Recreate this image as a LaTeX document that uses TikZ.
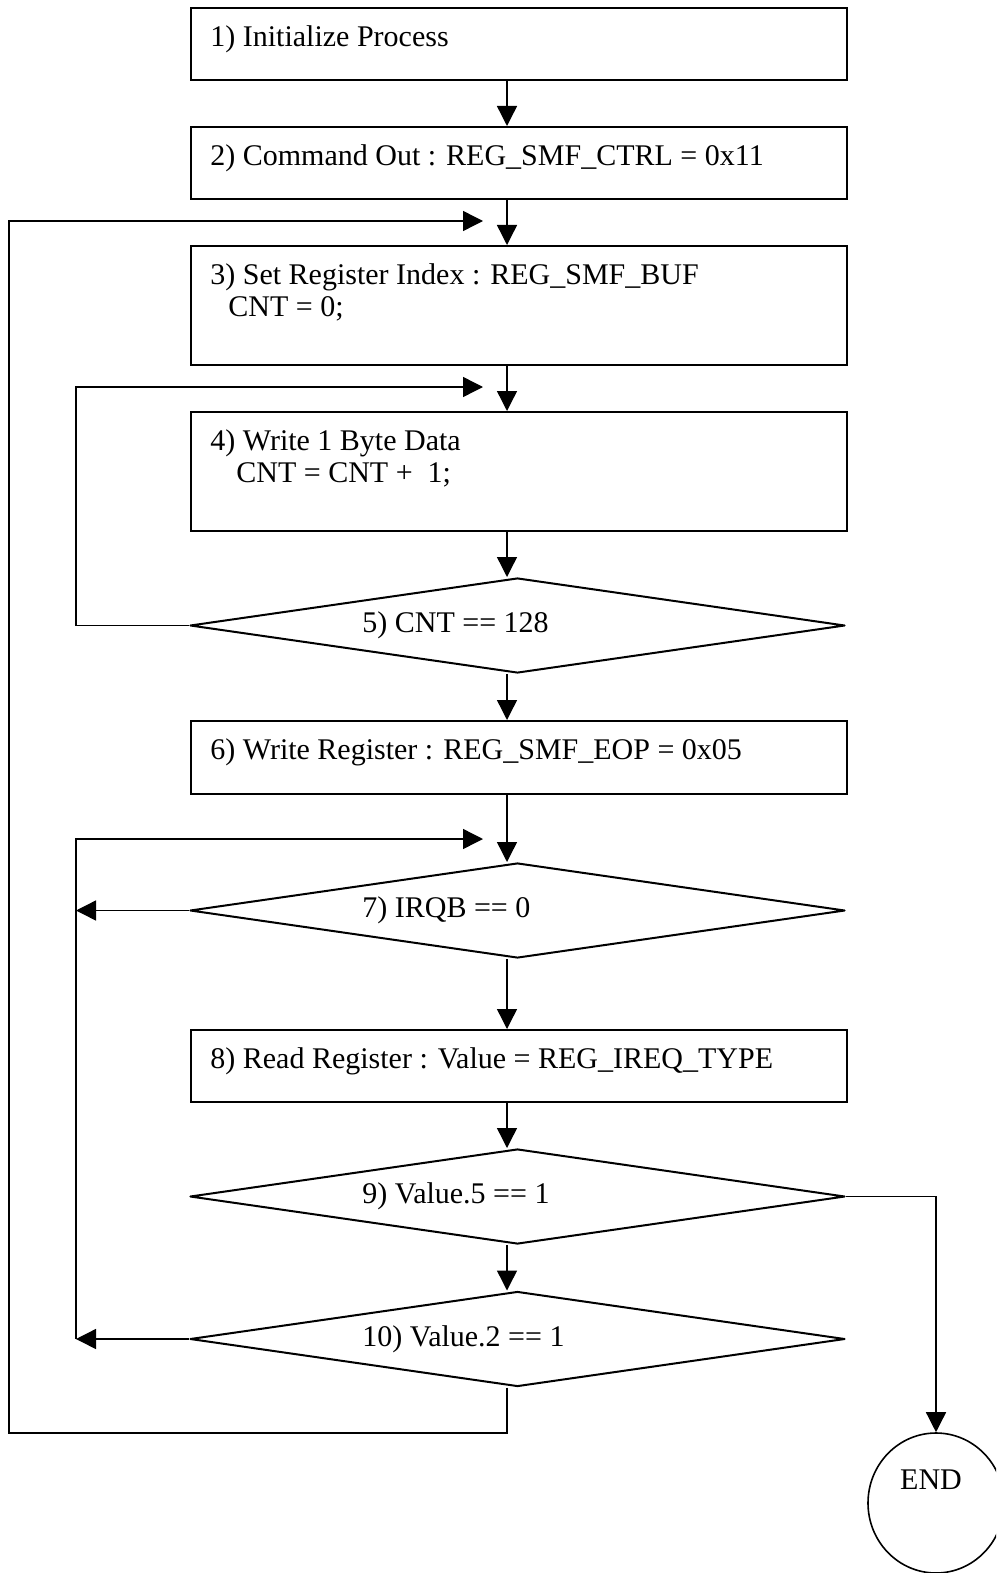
\documentclass[tikz,border=0pt]{standalone}
\usepackage{fontspec}
\setmainfont{Liberation Serif}
\usetikzlibrary{arrows.meta,positioning,shapes.geometric}

\begin{document}
\begin{tikzpicture}[
    x=0.5pt, y=-0.5pt,
    blk/.style={draw, line width=1pt, anchor=north west, minimum width=328pt, inner sep=0pt},
    dia/.style={draw, diamond, line width=1pt, line join=round, minimum width=327.5pt, minimum height=47.5pt, inner sep=0pt},
    txt/.style={anchor=north west, inner sep=0pt, align=left, font=\fontsize{15pt}{16pt}\selectfont},
    dtxt/.style={anchor=west, inner sep=0pt, font=\fontsize{15pt}{16pt}\selectfont},
    ln/.style={line width=0.7pt},
    >={Triangle[length=10pt,width=10pt]}
]
\useasboundingbox (0,0) rectangle (996,1573);
\clip (0,0) rectangle (996,1573);

\node[blk, minimum height=36pt] (b1) at (190,7) {};
\node[blk, minimum height=36pt] (b2) at (190,126) {};
\node[blk, minimum height=59.5pt] (b3) at (190,245) {};
\node[blk, minimum height=59.5pt] (b4) at (190,411) {};
\node[dia] (d5) at (517.5,625.5) {};
\node[blk, minimum height=36.5pt] (b6) at (190,720) {};
\node[dia] (d7) at (517.5,910.5) {};
\node[blk, minimum height=36pt] (b8) at (190,1029) {};
\node[dia] (d9) at (517.5,1196.5) {};
\node[dia] (d10) at (517.5,1339) {};
\node[draw, ellipse, line width=0.8pt, minimum width=68pt, minimum height=70pt, inner sep=0pt] (endc) at (936,1503) {};

\node[txt] (t1) at ([xshift=10pt,yshift=-9pt]b1.north west) {1) Initialize Process};
\node[txt] (t2) at ([xshift=10pt,yshift=-9pt]b2.north west) {2) Command Out : REG\_SMF\_CTRL = 0x11};
\node[txt] (t3) at ([xshift=10pt,yshift=-9pt]b3.north west) {3) Set Register Index : REG\_SMF\_BUF\\\hspace*{9pt}CNT = 0;};
\node[txt] (t4) at ([xshift=10pt,yshift=-9pt]b4.north west) {4) Write 1 Byte Data\\\hspace*{13pt}CNT = CNT +\ \ 1;};
\node[txt] (t6) at ([xshift=10pt,yshift=-9pt]b6.north west) {6) Write Register : REG\_SMF\_EOP = 0x05};
\node[txt] (t8) at ([xshift=10pt,yshift=-9pt]b8.north west) {8) Read Register : Value = REG\_IREQ\_TYPE};
\node[dtxt] (t5) at ([xshift=86.5pt]d5.west) {5) CNT == 128};
\node[dtxt] (t7) at ([xshift=86.5pt]d7.west) {7) IRQB == 0};
\node[dtxt] (t9) at ([xshift=86.5pt]d9.west) {9) Value.5 == 1};
\node[dtxt] (t10) at ([xshift=86.5pt]d10.west) {10) Value.2 == 1};
\node[dtxt, anchor=center] (tend) at (931,1480) {END};

% main line
\coordinate (sx) at (507,0);
\draw[ln,->] (b1.south -| sx) -- (b2.north -| sx);
\draw[ln,->] (b2.south -| sx) -- (b3.north -| sx);
\draw[ln,->] (b3.south -| sx) -- (b4.north -| sx);
\draw[ln,->] (b4.south -| sx) -- (d5.north -| sx);
\draw[ln,->] (d5.south -| sx) -- (b6.north -| sx);
\draw[ln,->] (b6.south -| sx) -- (d7.north -| sx);
\draw[ln,->] (d7.south -| sx) -- (b8.north -| sx);
\draw[ln,->] (b8.south -| sx) -- (d9.north -| sx);
\draw[ln,->] (d9.south -| sx) -- (d10.north -| sx);

% loops back
\coordinate (o1) at (9,1433);
\coordinate (o2) at (483,221);
\draw[ln,->] (d10.south -| sx) |- (o1) |- (o2);

\coordinate (i1) at (76,387);
\coordinate (i2) at (483,387);
\draw[ln,->] (d5.west) -| (i1) -- (i2);

\coordinate (j1) at (76,1339);
\coordinate (j2) at (76,910.5);
\coordinate (j3) at (483,839);
\draw[ln,->] (d10.west) -- (j1);
\draw[ln,->] (d7.west) -- (j2);
\draw[ln,->] (j1) |- (j3);

% exit
\draw[ln,->] (d9.east) -| (endc.north);

\end{tikzpicture}
\end{document}
